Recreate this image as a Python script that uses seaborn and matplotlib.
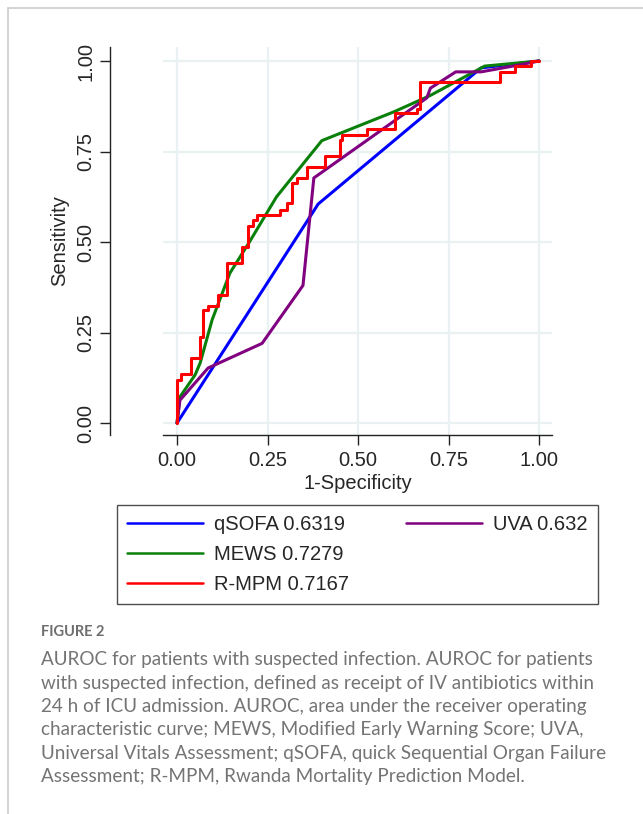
import pandas as pd
import matplotlib.pyplot as plt
import seaborn as sns
from matplotlib.lines import Line2D

# ROC curve points (1-specificity, sensitivity)
qsofa_fpr = [0.0, 0.39, 0.84, 1.0]
qsofa_tpr = [0.0, 0.605, 0.981, 1.0]

mews_fpr = [0.0, 0.008, 0.05, 0.064, 0.097, 0.146, 0.20, 0.275, 0.40, 0.50, 0.60, 0.70, 0.85, 1.0]
mews_tpr = [0.0, 0.072, 0.133, 0.166, 0.285, 0.414, 0.50, 0.625, 0.78, 0.82, 0.86, 0.905, 0.986, 1.0]

uva_fpr = [0.0, 0.008, 0.086, 0.235, 0.348, 0.378, 0.69, 0.70, 0.77, 0.84, 0.95, 1.0]
uva_tpr = [0.0, 0.063, 0.152, 0.22, 0.38, 0.677, 0.898, 0.925, 0.97, 0.97, 0.99, 1.0]

rmpm_fpr = [0.0, 0.011, 0.040, 0.064, 0.072, 0.085, 0.113, 0.137, 0.180, 0.196, 0.209, 0.220,
            0.284, 0.303, 0.317, 0.331, 0.358, 0.409, 0.450, 0.455, 0.526, 0.602, 0.662, 0.671,
            0.892, 0.934, 0.977, 1.0]
rmpm_tpr = [0.0, 0.119, 0.135, 0.180, 0.238, 0.312, 0.323, 0.353, 0.443, 0.487, 0.544, 0.561,
            0.575, 0.588, 0.607, 0.662, 0.676, 0.708, 0.738, 0.782, 0.796, 0.811, 0.856, 0.868,
            0.943, 0.970, 0.986, 1.0]

labels = ["qSOFA 0.6319", "MEWS 0.7279", "R-MPM 0.7167", "UVA 0.632"]
ticks = [0.0, 0.25, 0.5, 0.75, 1.0]
tick_labels = ["0.00", "0.25", "0.50", "0.75", "1.00"]

caption_title = "FIGURE 2"
caption_lines = [
    "AUROC for patients with suspected infection. AUROC for patients",
    "with suspected infection, defined as receipt of IV antibiotics within",
    "24 h of ICU admission. AUROC, area under the receiver operating",
    "characteristic curve; MEWS, Modified Early Warning Score; UVA,",
    "Universal Vitals Assessment; qSOFA, quick Sequential Organ Failure",
    "Assessment; R-MPM, Rwanda Mortality Prediction Model.",
]

sns.set_style("white")
plt.rcParams['font.family'] = ['Liberation Sans', 'DejaVu Sans']

W, H = 643, 814
fs = 14.5
fig = plt.figure(figsize=(W / 100, H / 100), dpi=100)
ax = fig.add_axes([163 / W, 1 - 435 / H, 389 / W, 388 / H])

lw = 2.2
sns.lineplot(x=qsofa_fpr, y=qsofa_tpr, ax=ax, color="#0000ff", lw=lw, sort=False, estimator=None)
sns.lineplot(x=mews_fpr, y=mews_tpr, ax=ax, color="#0a800a", lw=lw, sort=False, estimator=None)
sns.lineplot(x=uva_fpr, y=uva_tpr, ax=ax, color="#800080", lw=lw, sort=False, estimator=None)
sns.lineplot(x=rmpm_fpr, y=rmpm_tpr, ax=ax, color="#ff0000", lw=lw, sort=False, estimator=None,
             drawstyle="steps-pre")

ax.set_xlim(-0.0387, 1.0359)
ax.set_ylim(-0.0331, 1.0387)
ax.set_xticks(ticks)
ax.set_xticklabels(tick_labels)
ax.set_yticks(ticks)
ax.set_yticklabels(tick_labels)
ax.grid(True, color="#e9f1f3", lw=1.6)
ax.set_axisbelow(True)

for s in ["top", "right"]:
    ax.spines[s].set_visible(False)
for s in ["left", "bottom"]:
    ax.spines[s].set_color("#222222")
    ax.spines[s].set_linewidth(1.0)
ax.spines["left"].set_position(("outward", 38))
ax.tick_params(axis="both", which="major", direction="out", length=7.2, width=1.0,
               color="#222222", labelsize=fs, pad=4, left=True, bottom=True)
ax.tick_params(axis="y", labelrotation=90, pad=3.5)
for lab in ax.get_yticklabels():
    lab.set_va("center")
ax.set_xlabel("1-Specificity", fontsize=fs, labelpad=3.5)
ax.set_ylabel("Sensitivity", fontsize=fs, labelpad=5)

# legend: three entries in first column, UVA alone in second
cols = ["#0000ff", "#0a800a", "#ff0000", "#800080"]
handles = [Line2D([], [], color=c, lw=1.8) for c in cols]
blank = Line2D([], [], color="none")
handles += [blank, blank]
leg_labels = labels + ["", ""]
leg = fig.legend(handles, leg_labels, ncol=2, loc="upper left",
                 bbox_to_anchor=(117 / W, 1 - 605 / H, 481 / W, 100 / H), mode="expand",
                 fontsize=fs, frameon=True, fancybox=False, edgecolor="#222222",
                 handlelength=3.75, handletextpad=0.58, labelspacing=0.55,
                 columnspacing=2.0, borderpad=0.5, borderaxespad=0)
leg.get_frame().set_linewidth(1.0)

# caption
fig.text(41 / W, 1 - 632 / H, caption_title, fontsize=10.5, color="#6e6e6e",
         family=["Lato", "DejaVu Sans"], fontweight="bold", va="center")
for i, line in enumerate(caption_lines):
    fig.text(41 / W, 1 - (660 + i * 23.3) / H, line, fontsize=13.6, color="#747474",
             family=["Lato", "DejaVu Sans"], va="center")

# page frame
fig.add_artist(Line2D([8 / W, 8 / W], [0, 1 - 8 / H], color="#cccccc", lw=1.2))
fig.add_artist(Line2D([8 / W, 1], [1 - 8 / H, 1 - 8 / H], color="#cccccc", lw=1.2))

fig.savefig("out.png", dpi=100)
